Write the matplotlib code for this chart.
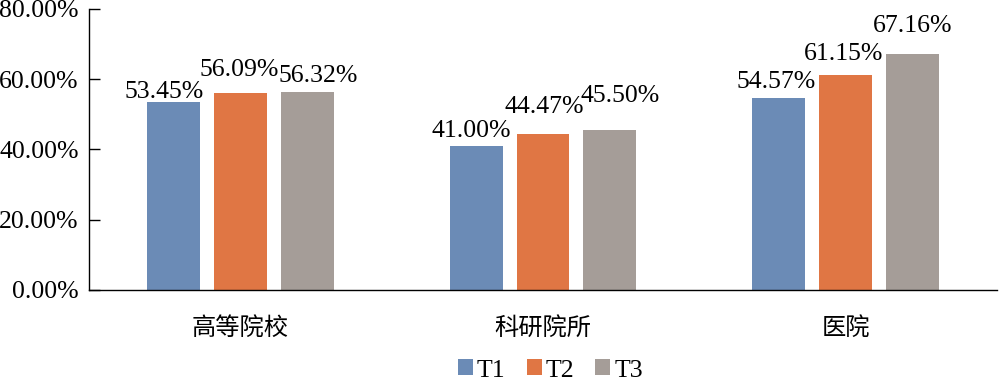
import matplotlib
matplotlib.use("Agg")
import matplotlib.pyplot as plt
import numpy as np
from matplotlib.patches import Patch

categories = ["高等院校", "科研院所", "医院"]
series = ["T1", "T2", "T3"]
T1 = [53.45, 41.00, 54.57]
T2 = [56.09, 44.47, 61.15]
T3 = [56.32, 45.50, 67.16]
colors = ["#6B8BB6", "#E07644", "#A59D98"]

# label placement offsets in pixels (dx, gap above bar), per series per category
label_dx = [[-9.5, -5, -2.5], [-1.5, 1, -2.5], [11, 10, 0]]
label_gap = [[4, 9, 10], [17, 21, 15], [10, 28, 22]]

plt.rcParams['font.family'] = ['Liberation Serif', 'Noto Sans CJK SC']
FS = 18.5
PX = 0.72  # points per pixel at dpi 100

fig = plt.figure(figsize=(10, 3.89), dpi=100)
ax = fig.add_axes([0.089, 0.2545, 0.908, 0.7225])

x = np.arange(len(categories))
w = 0.175
step = 0.221
for i, (vals, c) in enumerate(zip([T1, T2, T3], colors)):
    pos = x + (i - 1) * step
    bars = ax.bar(pos, vals, width=w, color=c, label=series[i])
    for j, (b, v) in enumerate(zip(bars, vals)):
        ax.annotate(f"{v:.2f}%", xy=(b.get_x() + b.get_width() / 2, v),
                    xytext=(label_dx[i][j] * PX, label_gap[i][j] * PX),
                    textcoords="offset points",
                    ha="center", va="baseline", fontsize=FS)

ax.set_xlim(-0.5, 2.5)
ax.set_ylim(0, 80)
ax.set_yticks([0, 20, 40, 60, 80])
ax.set_yticklabels([f"{t:.2f}%" for t in [0, 20, 40, 60, 80]], fontsize=FS)
ax.set_xticks(x)
ax.set_xticklabels(categories, fontsize=17.5, family=['Noto Sans CJK SC'])
ax.tick_params(axis='x', length=0, pad=18)
ax.tick_params(axis='y', length=8, width=1.0, direction='in', pad=7.5)
for s in ['top', 'right']:
    ax.spines[s].set_visible(False)
for s in ['left', 'bottom']:
    ax.spines[s].set_linewidth(1.0)

handles = [Patch(facecolor=c, label=s) for c, s in zip(colors, series)]
fig.legend(handles=handles, loc='center', bbox_to_anchor=(0.5505, 0.0476), ncol=3,
           frameon=False, fontsize=FS, handlelength=0.58, handleheight=0.58,
           handletextpad=0.16, columnspacing=0.82, borderpad=0, borderaxespad=0)

fig.savefig("out.png", dpi=100)
